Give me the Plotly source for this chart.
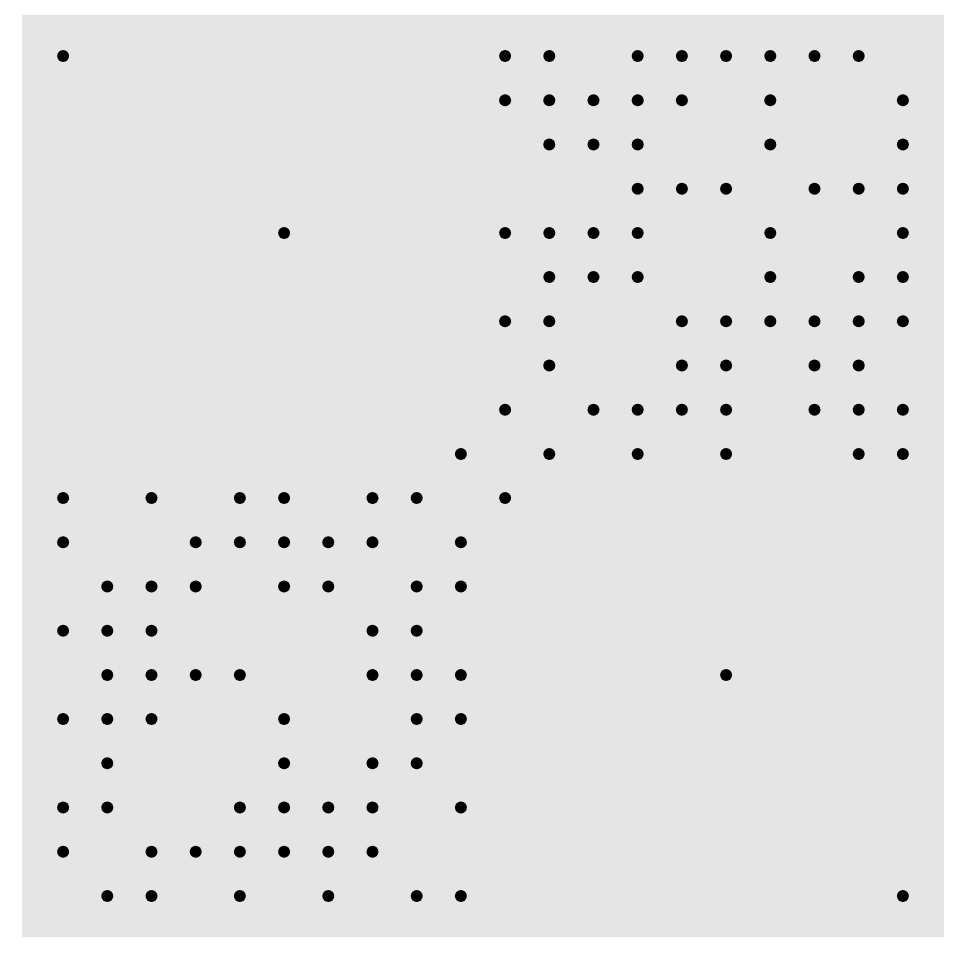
import plotly.graph_objects as go

n_nodes = 20
node_labels = list(range(n_nodes))

# For each row (node), the columns (nodes) where a link is present
row_0 = [0, 10, 11, 13, 14, 15, 16, 17, 18]
row_1 = [10, 11, 12, 13, 14, 16, 19]
row_2 = [11, 12, 13, 16, 19]
row_3 = [13, 14, 15, 17, 18, 19]
row_4 = [5, 10, 11, 12, 13, 16, 19]
row_5 = [11, 12, 13, 16, 18, 19]
row_6 = [10, 11, 14, 15, 16, 17, 18, 19]
row_7 = [11, 14, 15, 17, 18]
row_8 = [10, 12, 13, 14, 15, 17, 18, 19]
row_9 = [9, 11, 13, 15, 18, 19]
row_10 = [0, 2, 4, 5, 7, 8, 10]
row_11 = [0, 3, 4, 5, 6, 7, 9]
row_12 = [1, 2, 3, 5, 6, 8, 9]
row_13 = [0, 1, 2, 7, 8]
row_14 = [1, 2, 3, 4, 7, 8, 9, 15]
row_15 = [0, 1, 2, 5, 8, 9]
row_16 = [1, 5, 7, 8]
row_17 = [0, 1, 4, 5, 6, 7, 9]
row_18 = [0, 2, 3, 4, 5, 6, 7]
row_19 = [1, 2, 4, 6, 8, 9, 19]

rows = [row_0, row_1, row_2, row_3, row_4, row_5, row_6, row_7, row_8, row_9,
        row_10, row_11, row_12, row_13, row_14, row_15, row_16, row_17, row_18, row_19]

xs, ys = [], []
for r, cols in enumerate(rows):
    for c in cols:
        xs.append(c)
        ys.append(r)

fig = go.Figure(go.Scatter(
    x=xs, y=ys, mode="markers",
    marker=dict(color="black", size=12),
    hoverinfo="skip",
))

fig.update_layout(
    width=960, height=960,
    margin=dict(l=22, r=16, t=15, b=23),
    paper_bgcolor="white",
    plot_bgcolor="#e5e5e5",
    showlegend=False,
)
fig.update_xaxes(range=[-0.93, 19.93], showgrid=False, zeroline=False,
                 showticklabels=False, ticks="")
fig.update_yaxes(range=[19.93, -0.93], showgrid=False, zeroline=False,
                 showticklabels=False, ticks="")

fig.write_html("out.html")
